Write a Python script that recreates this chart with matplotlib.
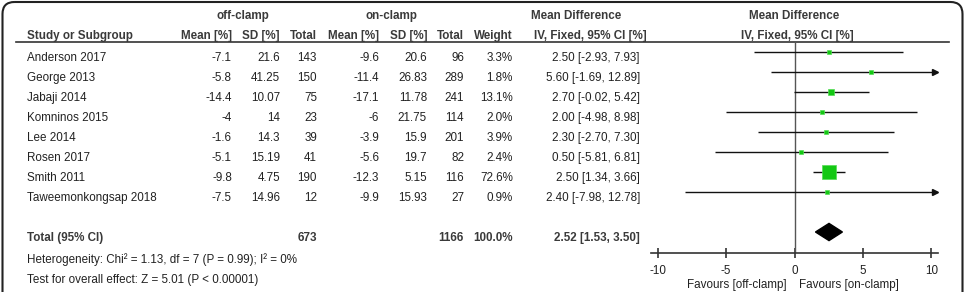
import matplotlib.pyplot as plt
from matplotlib.patches import FancyBboxPatch

plt.rcParams['font.family'] = ['Liberation Sans', 'DejaVu Sans']
plt.rcParams['font.size'] = 8.4
plt.rcParams['axes.unicode_minus'] = False

# study data
studies = ["Anderson 2017", "George 2013", "Jabaji 2014", "Komninos 2015",
           "Lee 2014", "Rosen 2017", "Smith 2011", "Taweemonkongsap 2018"]
off_mean = [-7.1, -5.8, -14.4, -4, -1.6, -5.1, -9.8, -7.5]
off_sd = [21.6, 41.25, 10.07, 14, 14.3, 15.19, 4.75, 14.96]
off_n = [143, 150, 75, 23, 39, 41, 190, 12]
on_mean = [-9.6, -11.4, -17.1, -6, -3.9, -5.6, -12.3, -9.9]
on_sd = [20.6, 26.83, 11.78, 21.75, 15.9, 19.7, 5.15, 15.93]
on_n = [96, 289, 241, 114, 201, 82, 116, 27]
weight = [3.3, 1.8, 13.1, 2.0, 3.9, 2.4, 72.6, 0.9]
md = [2.50, 5.60, 2.70, 2.00, 2.30, 0.50, 2.50, 2.40]
ci_lo = [-2.93, -1.69, -0.02, -4.98, -2.70, -5.81, 1.34, -7.98]
ci_hi = [7.93, 12.89, 5.42, 8.98, 7.30, 6.81, 3.66, 12.78]

total_off = 673
total_on = 1166
total_md = 2.52
total_lo = 1.53
total_hi = 3.50

heterogeneity = "Heterogeneity: Chi² = 1.13, df = 7 (P = 0.99); I² = 0%"
overall = "Test for overall effect: Z = 5.01 (P < 0.00001)"
xticks = [-10, -5, 0, 5, 10]

W, H = 965, 292
fig = plt.figure(figsize=(W / 100, H / 100), dpi=100)

# table part, in pixel coords
tab = fig.add_axes([0, 0, 1, 1])
tab.set_xlim(0, W)
tab.set_ylim(H, 0)
tab.axis('off')

tab.add_patch(FancyBboxPatch((2.5, 2), 960, 330, boxstyle="round,pad=0,rounding_size=12",
                             fc='none', ec='#222222', lw=1.5, clip_on=False))

hc = '#3a3a3a'
tc = '#222222'
bold = dict(fontweight='bold', color=hc, va='center')
tab.text(243, 16, "off-clamp", ha='center', **bold)
tab.text(391, 16, "on-clamp", ha='center', **bold)
tab.text(576, 16, "Mean Difference", ha='center', **bold)
tab.text(794, 16, "Mean Difference", ha='center', **bold)

col_x = [232, 280, 317, 379, 427, 464, 513, 640]
headers = ["Mean [%]", "SD [%]", "Total", "Mean [%]", "SD [%]", "Total", "Weight",
           "IV, Fixed, 95% CI [%]"]
tab.text(27, 36, "Study or Subgroup", ha='left', **bold)
for x, h in zip(col_x, headers):
    tab.text(x + (7 if h.startswith("IV") else 0), 36, h, ha='right', **bold)
tab.text(797, 36, "IV, Fixed, 95% CI [%]", ha='center', **bold)
tab.plot([16, 949], [42, 42], color='#333333', lw=1.2)

for i, name in enumerate(studies):
    y = 58 + 20 * i
    vals = ['{:g}'.format(off_mean[i]), '{:g}'.format(off_sd[i]), str(off_n[i]),
            '{:g}'.format(on_mean[i]), '{:g}'.format(on_sd[i]), str(on_n[i]),
            '{:.1f}%'.format(weight[i]),
            '{:.2f} [{:.2f}, {:.2f}]'.format(md[i], ci_lo[i], ci_hi[i])]
    tab.text(27, y, name, ha='left', va='center', color=tc)
    for x, v in zip(col_x, vals):
        tab.text(x, y, v, ha='right', va='center', color=tc)

ty = 58 + 20 * 9
tab.text(27, ty, "Total (95% CI)", ha='left', **bold)
tab.text(col_x[2], ty, str(total_off), ha='right', **bold)
tab.text(col_x[5], ty, str(total_on), ha='right', **bold)
tab.text(col_x[6], ty, "100.0%", ha='right', **bold)
tab.text(col_x[7], ty, '{:.2f} [{:.2f}, {:.2f}]'.format(total_md, total_lo, total_hi),
         ha='right', **bold)
tab.text(27, 260, heterogeneity, ha='left', va='center', color=tc)
tab.text(27, 280, overall, ha='left', va='center', color=tc)
tab.text(787, 285, "Favours [off-clamp]", ha='right', va='center', color=tc)
tab.text(799, 285, "Favours [on-clamp]", ha='left', va='center', color=tc)

# forest plot
x0, x1 = 650.7, 938.3
y0, y1 = 42, 252.7
ax = fig.add_axes([x0 / W, 1 - y1 / H, (x1 - x0) / W, (y1 - y0) / H])
ax.patch.set_alpha(0)
xmin, xmax = -10.5, 10.5
ax.set_xlim(xmin, xmax)
ax.set_ylim((y1 - 52) / 20, (y0 - 52) / 20)
for s in ['left', 'top', 'right']:
    ax.spines[s].set_visible(False)
ax.spines['bottom'].set_color('#333333')
ax.spines['bottom'].set_linewidth(1.2)
ax.set_yticks([])
ax.set_xticks(xticks)
ax.tick_params(axis='x', direction='inout', length=6.5, width=1.2, color='#333333',
               pad=5.5, labelsize=8.4, labelcolor=tc)
ax.axvline(0, color='#555555', lw=1)

for i in range(len(studies)):
    lo = max(ci_lo[i], xmin)
    hi = min(ci_hi[i], xmax - 0.05)
    ax.plot([lo, hi], [i, i], color='#111111', lw=1, solid_capstyle='butt')
    if ci_hi[i] > xmax:
        ax.plot([xmax - 0.25], [i], marker='>', ms=5, color='#111111', clip_on=False)
    ax.scatter([md[i]], [i], marker='s', s=max(weight[i] * 1.5, 5), color='#14c814',
               edgecolors='#55dd55', linewidths=0.5, zorder=3)

h = 0.43
ax.fill([total_lo, total_md, total_hi, total_md], [9, 9 - h, 9, 9 + h], color='black', zorder=3)

fig.savefig('out.png', dpi=100)
